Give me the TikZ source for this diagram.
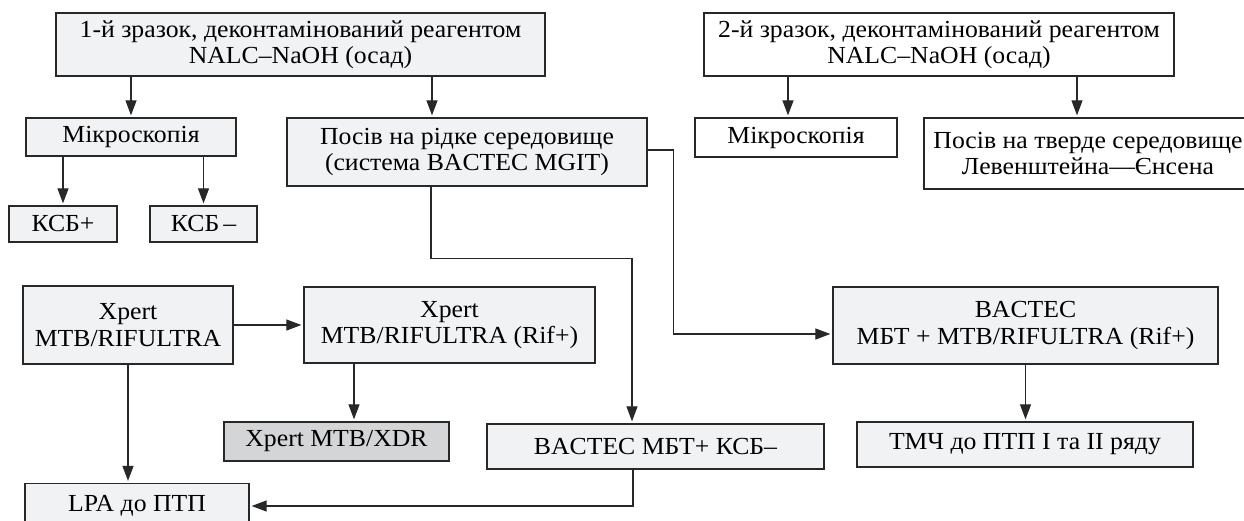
\documentclass[tikz,border=0pt]{standalone}
\usepackage{fontspec}
\setmainfont{Liberation Serif}[FakeStretch=1.05]
\usetikzlibrary{arrows.meta}
\definecolor{flowlight}{RGB}{241, 242, 244}
\definecolor{flowdark}{RGB}{212, 213, 215}
\definecolor{flowline}{RGB}{40, 40, 40}

\begin{document}
\begin{tikzpicture}[x=1pt, y=-1pt,
  box/.style={draw=flowline, line width=1.3pt, fill=flowlight, align=center,
    inner sep=0pt, font=\fontsize{24.5}{26.5}\selectfont},
  plainbox/.style={box, fill=white},
  darkbox/.style={box, fill=flowdark},
  size/.style 2 args={minimum width=#1pt, minimum height=#2pt},
  arr/.style={-{Triangle[length=15pt,width=11pt]}, line width=1.2pt,
    draw=flowline, shorten >=2pt}]
\useasboundingbox (0,0) rectangle (1244,520);

% first sample
\node[box, size={489}{63}] (s1) at (300.5,44.5)
  {1-й зразок, деконтамінований реагентом\\NALC–NaOH (осад)};
\node[box, size={210}{38}] (micA) at (131,137) {Мікроскопія};
\node[box, size={108}{36}] (ksbp) at (63,224) {КСБ+};
\node[box, size={107}{36}] (ksbm) at (203.5,224) {КСБ\,–};
\node[box, size={360}{68}] (liq) at (467,152)
  {Посів на рідке середовище\\(система BACTEC MGIT)};

% second sample
\node[plainbox, size={470}{63}] (s2) at (939,44.5)
  {2-й зразок, деконтамінований реагентом\\NALC–NaOH (осад)};
\node[plainbox, size={202}{39}] (micB) at (796,137.5) {Мікроскопія};
\node[plainbox, size={328}{71}] (solid) at (1088,153.5)
  {Посів на тверде середовище\\Левенштейна—Єнсена};

% molecular tests
\node[box, size={210}{78}] (xp1) at (128,325) {Xpert\\MTB/RIFULTRA};
\node[box, size={291}{76}] (xp2) at (449.5,325) {Xpert\\MTB/RIFULTRA (Rif+)};
\node[darkbox, size={225}{39}] (xdr) at (336.5,441.5) {Xpert MTB/XDR};
\node[box, size={224}{45}] (lpa) at (137,506) {LPA до ПТП};

% culture results
\node[box, size={337}{45}] (bmk) at (655.5,446.5) {BACTEC МБТ+ КСБ–};
\node[box, size={385}{77}] (bmr) at (1025.5,325.5)
  {BACTEC\\МБТ + MTB/RIFULTRA (Rif+)};
\node[box, size={336}{45}] (tmch) at (1025,444.5) {ТМЧ до ПТП I та II ряду};

% connectors
\draw[arr] (s1.south -| micA.north) -- (micA.north);
\draw[arr] ([xshift=-35pt]liq.north |- s1.south) -- ([xshift=-35pt]liq.north);
\draw[arr] (micA.south -| ksbp.north) -- (ksbp.north);
\draw[arr] (micA.south -| ksbm.north) -- (ksbm.north);
\draw[arr] ([xshift=-8pt]micB.north |- s2.south) -- ([xshift=-8pt]micB.north);
\draw[arr] ([xshift=-11pt]solid.north |- s2.south) -- ([xshift=-11pt]solid.north);
\draw[arr] ([xshift=-36pt]liq.south) -- ++(0,72) -| ([xshift=-23.5pt]bmk.north);
\draw[arr] ([yshift=2pt]liq.east) -- ++(26,0) |- ([yshift=-8.5pt]bmr.west);
\draw[arr] (xp1.east) -- (xp2.west);
\draw[arr] ([xshift=-95.5pt]xp2.south) -- ([xshift=-95.5pt]xp2.south |- xdr.north);
\draw[arr] (xp1.south) -- (xp1.south |- lpa.north);
\draw[arr] (bmr.south) -- (bmr.south |- tmch.north);
\draw[arr] ([xshift=-22.5pt]bmk.south) |- (lpa.east);
\end{tikzpicture}
\end{document}
